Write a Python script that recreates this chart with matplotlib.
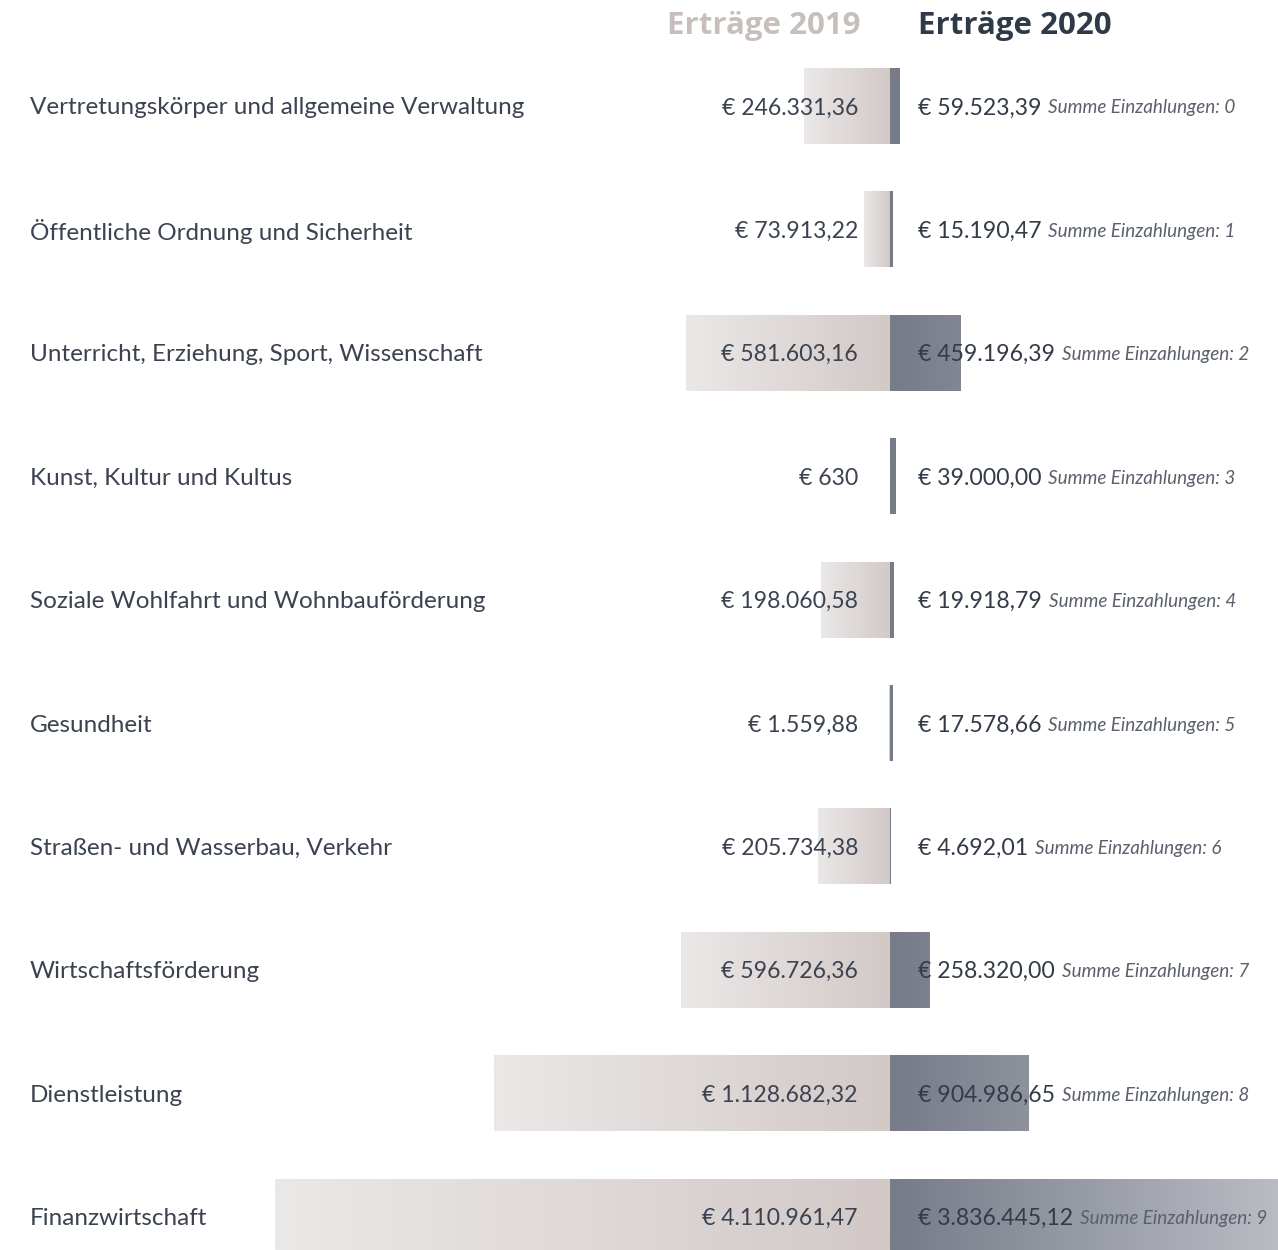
import numpy as np
import matplotlib
matplotlib.use("Agg")
import matplotlib.pyplot as plt
from matplotlib.colors import LinearSegmentedColormap

categories = ["Vertretungskörper und allgemeine Verwaltung",
              "Öffentliche Ordnung und Sicherheit",
              "Unterricht, Erziehung, Sport, Wissenschaft",
              "Kunst, Kultur und Kultus",
              "Soziale Wohlfahrt und Wohnbauförderung",
              "Gesundheit",
              "Straßen- und Wasserbau, Verkehr",
              "Wirtschaftsförderung",
              "Dienstleistung",
              "Finanzwirtschaft"]
ertraege_2019 = [246331.36, 73913.22, 581603.16, 630, 198060.58,
                 1559.88, 205734.38, 596726.36, 1128682.32, 4110961.47]
ertraege_2020 = [59523.39, 15190.47, 459196.39, 39000.00, 19918.79,
                 17578.66, 4692.01, 258320.00, 904986.65, 3836445.12]
einzahlungen = [0, 1, 2, 3, 4, 5, 6, 7, 8, 9]


def euro(v):
    if isinstance(v, int):
        s = f"{v:,}"
    else:
        s = f"{v:,.2f}"
    s = s.replace(",", "X").replace(".", ",").replace("X", ".")
    return "€ " + s


W, H = 1278, 1250
fig = plt.figure(figsize=(W / 100, H / 100), dpi=100)

# row geometry (rows as index, pixel rows mapped via ylim)
y0, step = 106, 123.4
ylim = ((H - y0) / step, -y0 / step)
bar_h = 76 / step
ys = np.arange(len(categories))

center = 890
left_px, right_px = 275, W
scale19, scale20 = 2850, 6550   # euro per pixel on each side

ax_l = fig.add_axes([left_px / W, 0, (center - left_px) / W, 1])
ax_r = fig.add_axes([center / W, 0, (right_px - center) / W, 1])
xmax_l = (center - left_px) * scale19
xmax_r = (right_px - center) * scale20

cm19 = LinearSegmentedColormap.from_list("c19", ["#ebe8e8", "#d2c9c7"])
cm20 = LinearSegmentedColormap.from_list("c20", ["#767b88", "#b9bcc3"])
grad = np.linspace(0, 1, 256).reshape(1, -1)

bars19 = ax_l.barh(ys, ertraege_2019, height=bar_h, color="none", linewidth=0)
for b, v in zip(bars19, ertraege_2019):
    vis = min(v, xmax_l)
    im = ax_l.imshow(grad, cmap=cm19, aspect="auto", zorder=2,
                     extent=(vis, 0, b.get_y() + b.get_height(), b.get_y()))
    im.set_clip_path(b)

bars20 = ax_r.barh(ys, ertraege_2020, height=bar_h, color="none",
                   linewidth=0)
for b in bars20:
    im = ax_r.imshow(grad, cmap=cm20, aspect="auto", zorder=2,
                     extent=(0, xmax_r, b.get_y() + b.get_height(), b.get_y()))
    im.set_clip_path(b)

ax_l.set_xlim(xmax_l, 0)
ax_r.set_xlim(0, xmax_r)
for a in (ax_l, ax_r):
    a.set_ylim(*ylim)
    a.axis("off")

# text layer
ax_t = fig.add_axes([0, 0, 1, 1])
ax_t.set_xlim(0, W)
ax_t.set_ylim(*ylim)
ax_t.axis("off")

txt_col = "#3b4250"
dy = 2 / step
for i, cat in enumerate(categories):
    ax_t.text(30, i + dy, cat, ha="left", va="center", fontsize=17.5,
              family="Lato", color=txt_col)
    ax_t.text(858, i + dy, euro(ertraege_2019[i]), ha="right", va="center",
              fontsize=16.6, family="Lato", color=txt_col)
    t = ax_t.text(918, i + dy, euro(ertraege_2020[i]), ha="left", va="center",
                  fontsize=16.6, family="Lato", color="#343b48")
    ax_t.annotate(f"Summe Einzahlungen: {einzahlungen[i]}", xy=(1, 0.5),
                  xycoords=t, xytext=(5, 0), textcoords="offset points",
                  ha="left", va="center", fontsize=13.6, family="Lato",
                  style="italic", color="#5a606c")

fig.text(860 / W, 1 - 26 / H, "Erträge 2019", ha="right", va="center",
         fontsize=22.5, fontweight="bold", family="Open Sans", color="#c8bfbc")
fig.text(918 / W, 1 - 26 / H, "Erträge 2020", ha="left", va="center",
         fontsize=22.5, fontweight="bold", family="Open Sans", color="#2f3a48")

fig.savefig("out.png", dpi=100, facecolor="white")
